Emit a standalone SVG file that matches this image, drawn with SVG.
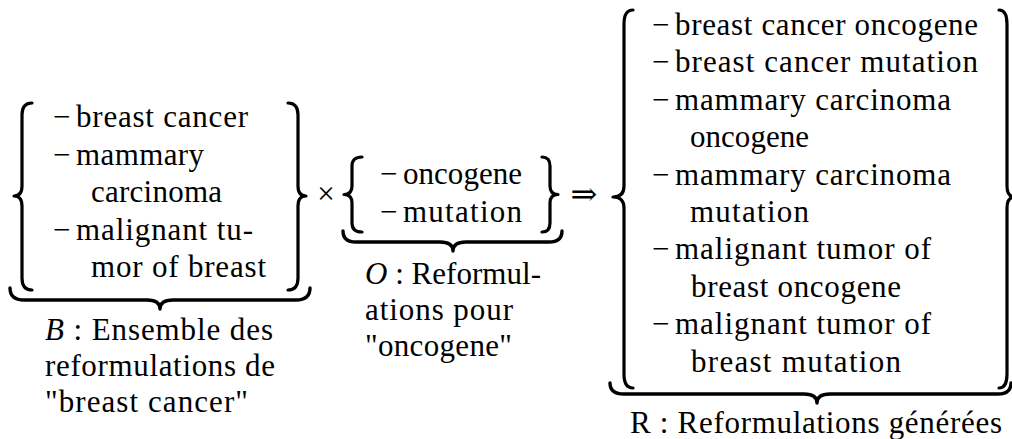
<svg xmlns="http://www.w3.org/2000/svg" width="1012" height="439" viewBox="0 0 1012 439">
<style>
.br{fill:none;stroke:#000;stroke-width:3.2;stroke-linecap:round;stroke-linejoin:round}
.ub{fill:none;stroke:#000;stroke-width:3.4;stroke-linecap:round;stroke-linejoin:round}
</style>
<rect width="1012" height="439" fill="#fff"/>

<g id="setB">
  <path class="br" d="M32,103 Q22,103 22,115 L22,186 Q22,196 14,196 Q22,196 22,206 L22,278 Q22,290 32,290"/>
  <path class="br" d="M288,103 Q298,103 298,115 L298,186 Q298,196 306,196 Q298,196 298,206 L298,278 Q298,290 288,290"/>
  <text x="53" y="127" font-size="31" font-family="Liberation Serif">−</text>
  <text x="76" y="127" font-size="31" font-family="Liberation Serif" textLength="172" lengthAdjust="spacing">breast cancer</text>
  <text x="53" y="164.5" font-size="31" font-family="Liberation Serif">−</text>
  <text x="76" y="164.5" font-size="31" font-family="Liberation Serif" textLength="128" lengthAdjust="spacing">mammary</text>
  <text x="91" y="202" font-size="31" font-family="Liberation Serif" textLength="131" lengthAdjust="spacing">carcinoma</text>
  <text x="53" y="239.5" font-size="31" font-family="Liberation Serif">−</text>
  <text x="76" y="239.5" font-size="31" font-family="Liberation Serif" textLength="177" lengthAdjust="spacing">malignant tu-</text>
  <text x="91" y="277" font-size="31" font-family="Liberation Serif" textLength="175" lengthAdjust="spacing">mor of breast</text>
  <path class="ub" d="M10,288 Q10,300 24,300 L147,300 Q160,300 160,309 Q160,300 173,300 L296,300 Q310,300 310,288"/>
  <text x="45" y="340" font-size="31" font-family="Liberation Serif" textLength="228" lengthAdjust="spacing"><tspan font-style="italic">B</tspan> : Ensemble des</text>
  <text x="45" y="376" font-size="31" font-family="Liberation Serif" textLength="230" lengthAdjust="spacing">reformulations de</text>
  <text x="45" y="412" font-size="31" font-family="Liberation Serif" textLength="203" lengthAdjust="spacing">"breast cancer"</text>
</g>

<g id="times">
  <text x="326" y="204" font-size="31" font-family="Liberation Serif" text-anchor="middle">×</text>
</g>

<g id="setO">
  <path class="br" d="M362,157 Q352,157 352,166 L352,186 Q352,194.5 344,194.5 Q352,194.5 352,203 L352,223 Q352,232 362,232"/>
  <path class="br" d="M542,157 Q550,157 550,166 L550,186 Q550,194.5 558,194.5 Q550,194.5 550,203 L550,223 Q550,232 542,232"/>
  <text x="380" y="184" font-size="31" font-family="Liberation Serif">−</text>
  <text x="403" y="184" font-size="31" font-family="Liberation Serif" textLength="119" lengthAdjust="spacing">oncogene</text>
  <text x="380" y="222" font-size="31" font-family="Liberation Serif">−</text>
  <text x="403" y="222" font-size="31" font-family="Liberation Serif" textLength="119" lengthAdjust="spacing">mutation</text>
  <path class="ub" d="M343,231 Q343,242 356,242 L440,242 Q453,242 453,251 Q453,242 466,242 L549,242 Q562,242 562,231"/>
  <text x="365" y="284" font-size="31" font-family="Liberation Serif" textLength="176" lengthAdjust="spacing"><tspan font-style="italic">O</tspan> : Reformul-</text>
  <text x="365" y="320" font-size="31" font-family="Liberation Serif" textLength="148" lengthAdjust="spacing">ations pour</text>
  <text x="365" y="356" font-size="31" font-family="Liberation Serif" textLength="147" lengthAdjust="spacing">"oncogene"</text>
</g>

<g id="implies">
  <text x="584" y="205" font-size="32" font-family="DejaVu Serif" text-anchor="middle">⇒</text>
</g>

<g id="setR">
  <path class="br" d="M633,10 Q624,10 624,24 L624,186 Q624,197 613,197 Q624,197 624,208 L624,374 Q624,388 633,388"/>
  <path class="br" d="M999,10 Q1007,10 1007,24 L1007,186 Q1007,197 1015,197 Q1007,197 1007,208 L1007,374 Q1007,388 999,388"/>
  <text x="652" y="35" font-size="31" font-family="Liberation Serif">−</text>
  <text x="675" y="35" font-size="31" font-family="Liberation Serif" textLength="303" lengthAdjust="spacing">breast cancer oncogene</text>
  <text x="652" y="72.4" font-size="31" font-family="Liberation Serif">−</text>
  <text x="675" y="72.4" font-size="31" font-family="Liberation Serif" textLength="303" lengthAdjust="spacing">breast cancer mutation</text>
  <text x="652" y="109.8" font-size="31" font-family="Liberation Serif">−</text>
  <text x="675" y="109.8" font-size="31" font-family="Liberation Serif" textLength="276" lengthAdjust="spacing">mammary carcinoma</text>
  <text x="690" y="147.2" font-size="31" font-family="Liberation Serif" textLength="119" lengthAdjust="spacing">oncogene</text>
  <text x="652" y="184.6" font-size="31" font-family="Liberation Serif">−</text>
  <text x="675" y="184.6" font-size="31" font-family="Liberation Serif" textLength="276" lengthAdjust="spacing">mammary carcinoma</text>
  <text x="690" y="222" font-size="31" font-family="Liberation Serif" textLength="119" lengthAdjust="spacing">mutation</text>
  <text x="652" y="259.4" font-size="31" font-family="Liberation Serif">−</text>
  <text x="675" y="259.4" font-size="31" font-family="Liberation Serif" textLength="256" lengthAdjust="spacing">malignant tumor of</text>
  <text x="691" y="296.8" font-size="31" font-family="Liberation Serif" textLength="210" lengthAdjust="spacing">breast oncogene</text>
  <text x="652" y="334.2" font-size="31" font-family="Liberation Serif">−</text>
  <text x="675" y="334.2" font-size="31" font-family="Liberation Serif" textLength="256" lengthAdjust="spacing">malignant tumor of</text>
  <text x="691" y="371.6" font-size="31" font-family="Liberation Serif" textLength="210" lengthAdjust="spacing">breast mutation</text>
  <path class="ub" d="M610,383 Q610,394 624,394 L804,394 Q817,394 817,403 Q817,394 830,394 L998,394 Q1011,394 1011,383"/>
  <text x="630" y="433" font-size="31" font-family="Liberation Serif" textLength="372" lengthAdjust="spacing">R : Reformulations générées</text>
</g>
</svg>
